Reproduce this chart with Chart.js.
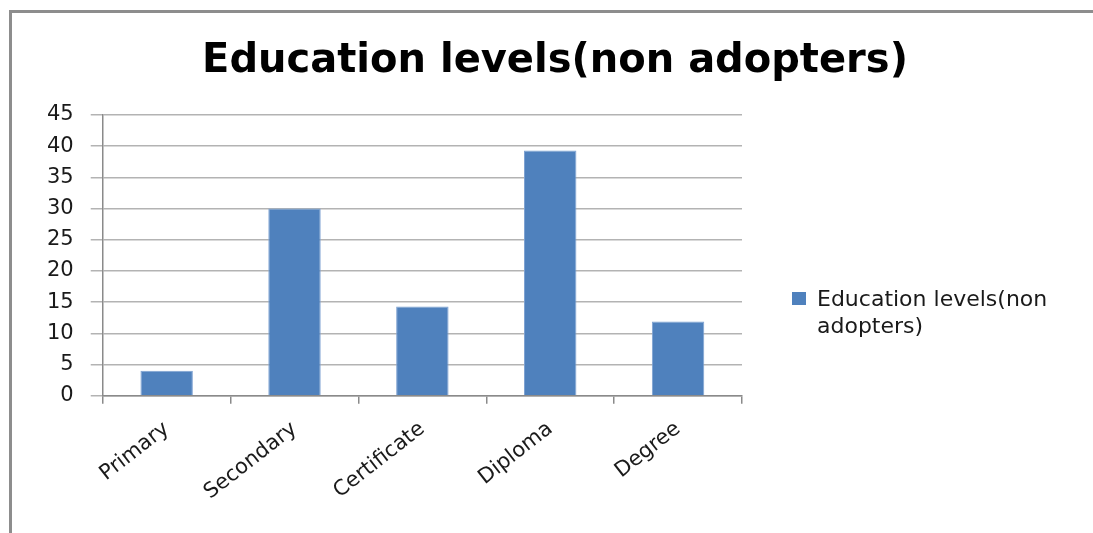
<!DOCTYPE html>
<html>
<head>
<meta charset="utf-8">
<script src="https://cdn.jsdelivr.net/npm/chart.js@4.4.1/dist/chart.umd.min.js"></script>
<style>
  html, body { margin: 0; padding: 0; background: #fff; overflow: hidden; }
</style>
</head>
<body>
<canvas id="grafico" width="1093" height="533"></canvas>
<script>
const titulo = 'Education levels(non adopters)'
const categorias = ['Primary', 'Secondary', 'Certificate', 'Diploma', 'Degree']
const valores = [4.0, 30.0, 14.3, 39.3, 11.9]
const eixoY = { min: 0, max: 45, passo: 5 }

const fonte = '"DejaVu Sans", Verdana, sans-serif'
const corBarra = '#4f81bd'
const corTexto = '#1a1a1a'

// gray frame along the left and top edges, drawn first
const moldura = {
  id: 'moldura',
  beforeDraw(chart) {
    const ctx = chart.ctx
    ctx.save()
    ctx.strokeStyle = '#8d8d8d'
    ctx.lineWidth = 3
    ctx.beginPath()
    ctx.moveTo(10.5, chart.height + 5)
    ctx.lineTo(10.5, 11.5)
    ctx.lineTo(chart.width + 5, 11.5)
    ctx.stroke()
    ctx.restore()
  }
}

// legend on the right, wrapped onto two lines
const legendaLateral = {
  id: 'legendaLateral',
  afterDraw(chart) {
    const ctx = chart.ctx
    const area = chart.chartArea
    const ds = chart.data.datasets[0]
    ctx.save()
    ctx.font = '22px ' + fonte
    ctx.textBaseline = 'alphabetic'
    const palavras = ds.label.split(' ')
    const linhas = []
    let atual = ''
    palavras.forEach(p => {
      const teste = atual ? atual + ' ' + p : p
      if (ctx.measureText(teste).width > 265 && atual) {
        linhas.push(atual)
        atual = p
      } else {
        atual = teste
      }
    })
    if (atual) linhas.push(atual)
    const x = area.right + 50
    const y = 292
    ctx.fillStyle = corBarra
    ctx.fillRect(x, y, 14, 13)
    ctx.fillStyle = corTexto
    linhas.forEach((l, i) => ctx.fillText(l, x + 25, y + 14 + i * 27))
    ctx.restore()
  }
}

const ctx = document.getElementById('grafico').getContext('2d')
const grafico = new Chart(ctx, {
  type: 'bar',
  data: {
    labels: categorias,
    datasets: [{
      label: titulo,
      data: valores,
      backgroundColor: corBarra,
      borderColor: '#7ea2d2',
      borderWidth: 1,
      categoryPercentage: 0.82,
      barPercentage: 0.5
    }]
  },
  options: {
    responsive: false,
    animation: false,
    layout: { padding: { left: 30, right: 13, top: 38, bottom: 15 } },
    plugins: {
      legend: { display: false },
      tooltip: { enabled: false },
      title: {
        display: true,
        text: titulo,
        color: '#000',
        font: { family: fonte, size: 40, weight: 'bold' },
        padding: { top: 0, bottom: 29 }
      }
    },
    scales: {
      x: {
        grid: { drawOnChartArea: false, drawTicks: true, tickLength: 8, color: '#8a8a8a', lineWidth: 1.5 },
        border: { color: '#8a8a8a', width: 1.5 },
        ticks: {
          color: corTexto,
          font: { family: fonte, size: 21 },
          minRotation: 38,
          maxRotation: 38,
          padding: 13
        }
      },
      y: {
        min: eixoY.min,
        max: eixoY.max,
        grid: { color: '#b3b3b3', lineWidth: 1.5, tickLength: 12 },
        border: { color: '#8a8a8a', width: 1.5 },
        ticks: {
          stepSize: eixoY.passo,
          color: corTexto,
          font: { family: fonte, size: 21 },
          padding: 17
        }
      },
      // empty axis that keeps room for the legend on the right
      reservaLegenda: {
        type: 'linear',
        position: 'right',
        grid: { display: false },
        border: { display: false },
        ticks: { display: false },
        afterFit(escala) { escala.width = 338 }
      }
    }
  },
  plugins: [moldura, legendaLateral]
})
</script>
</body>
</html>
